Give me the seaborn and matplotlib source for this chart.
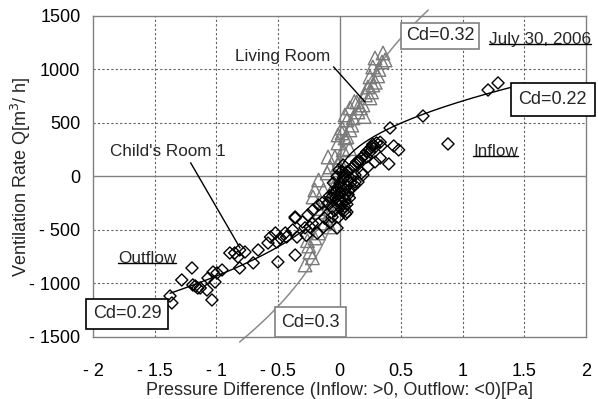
import numpy as np
import pandas as pd
import matplotlib
matplotlib.use("Agg")
import matplotlib.pyplot as plt
import matplotlib.transforms as mtransforms
from matplotlib.lines import Line2D
import seaborn as sns

# Living Room: pressure difference [Pa] and ventilation rate [m3/h]
living_dp = [0.353, 0.288, 0.37, 0.27, 0.345, 0.247, 0.23, 0.27, 0.21, 0.247,
             0.14, 0.19, 0.085, 0.15, 0.045, 0.11, 0.06, 0.02, 0.085, -0.012,
             0.045, 0.02, 0.06, -0.012, 0.03, -0.037, -0.077, -0.012, -0.1, -0.17,
             -0.2, -0.215, -0.13, -0.093, -0.16, -0.12, -0.2, -0.24, -0.28, -0.17,
             -0.077, 0.29, 0.32, 0.12, 0.1, 0.17, -0.25, -0.22, -0.1, -0.05, 0.0,
             0.31, 0.26, 0.2, 0.08, -0.03, -0.14, -0.26]
living_q = [1154, 1107, 1089, 1023, 1070, 930, 836, 855, 762, 734,
            696, 668, 640, 603, 575, 547, 528, 453, 435, 388,
            360, 407, 370, 313, 248, 182, 89, 107, 33, -33,
            -126, -192, -126, 182, -332, -435, -575, -706, -827, -528,
            -472, 880, 1000, 700, 480, 640, -650, -760, -250, -100, 150,
            940, 790, 560, 260, 0, -300, -600]

# Child's Room 1: pressure difference [Pa] and ventilation rate [m3/h]
child_dp = [1.286, 1.205, 0.677, 0.88, 0.41, 0.44, 0.48, 0.337, 0.33, 0.40,
            0.288, 0.247, 0.22, 0.23, 0.15, 0.126, 0.18,
            0.30, 0.26, 0.22, 0.18, 0.14, 0.10, 0.06, 0.03, 0.005, -0.02,
            -0.045, -0.07, -0.093, 0.053, 0.085, 0.126, 0.045, -0.012, 0.02, 0.045,
            0.077, 0.03, -0.004, 0.1, 0.15, 0.19, 0.288,
            0.0, -0.03, 0.01, 0.04, -0.05, -0.02, 0.02, 0.07, 0.05, -0.01,
            0.03, -0.06, 0.08, 0.12,
            0.2, 0.24, 0.16, 0.12, 0.08, 0.27, 0.33, 0.05, 0.0, -0.03,
            0.02, -0.04, 0.06, -0.08, 0.09, 0.04, -0.01, 0.07,
            -0.36, -0.30, -0.256, -0.215, -0.17, -0.14, -0.24, -0.13, -0.06, 0.06,
            0.045, -0.02, -0.28, -0.22, -0.18, -0.12, -0.08, -0.27,
            -1.197, -1.28, -1.19, -1.15, -1.075, -1.035, -1.067, -1.026, -0.994, -0.953,
            -1.01, -0.89, -0.85, -0.81, -0.824, -0.767, -0.81, -0.70, -0.66, -0.56,
            -0.58, -0.52, -0.51, -0.44, -0.48, -0.43, -0.36, -0.38, -0.345, -0.50,
            -0.36, -1.375, -1.36, -1.17, -1.13]
child_q = [874, 808, 565, 304, 453, 285, 248, 285, 173, 117,
           276, 229, 182, 89, 126, -51, 33,
           313, 276, 229, 173, 136, 79, 42, -14, -61, -107,
           -154, -201, -248, -79, -14, 14, -173, -266, -313, -220,
           -126, 107, 61, -107, -51, 14, 136,
           -150, -200, -230, -280, -60, 0, 50, -40, -350, -380,
           -190, -290, -200, -80,
           200, 250, 150, 100, 60, 300, 320, 0, -100, -150,
           -250, -320, -260, -180, -60, -120, -210, -170,
           -388, -425, -360, -313, -266, -248, -472, -472, -378, -332,
           -313, -481, -480, -440, -530, -390, -430, -550,
           -855, -967, -1014, -1042, -1061, -1154, -949, -893, -902, -874,
           -986, -715, -715, -687, -752, -706, -855, -808, -687, -566,
           -622, -528, -612, -528, -575, -566, -378, -500, -566, -799,
           -734, -1117, -1182, -1023, -1042]

# Discharge coefficients of the fitted orifice curves
cd_living_in, cd_living_out = 0.32, 0.3
cd_child_in, cd_child_out = 0.22, 0.29
# Q = Cd * factor * sqrt(|dP|), factor includes opening area and air density
factor_living = 5728.0
factor_child = 3210.0

x_ticks = [-2, -1.5, -1, -0.5, 0, 0.5, 1, 1.5, 2]
x_tick_labels = ["- 2", "- 1.5", "- 1", "- 0.5", "0", "0.5", "1", "1.5", "2"]
y_ticks = [-1500, -1000, -500, 0, 500, 1000, 1500]
y_tick_labels = ["- 1500", "- 1000", "- 500", "0", "500", "1000", "1500"]

sns.set_style("white")
plt.rcParams["font.family"] = ["Liberation Sans", "DejaVu Sans"]

fig = plt.figure(figsize=(5.98, 3.99), dpi=100)
ax = fig.add_axes([0.1555, 0.1554, 0.8245, 0.8046])

frame_gray = "#808080"
for side in ax.spines.values():
    side.set_color(frame_gray)
    side.set_linewidth(1.0)

ax.set_xlim(-2, 2)
ax.set_ylim(-1500, 1500)
ax.set_xticks(x_ticks)
ax.set_xticklabels(x_tick_labels)
ax.set_yticks(y_ticks)
ax.set_yticklabels(y_tick_labels)
ax.tick_params(axis="both", length=0, labelsize=13, colors="black")
ax.tick_params(axis="x", pad=19)
ax.tick_params(axis="y", pad=9)

# dotted grid and solid zero lines
for xv in x_ticks[1:-1]:
    if xv == 0:
        ax.axvline(xv, color=frame_gray, lw=1.0, zorder=1)
    else:
        ax.axvline(xv, color="#606060", lw=0.8, ls=(0, (2, 2)), zorder=1)
for yv in y_ticks[1:-1]:
    if yv == 0:
        ax.axhline(yv, color=frame_gray, lw=1.0, zorder=1)
    else:
        ax.axhline(yv, color="#606060", lw=0.8, ls=(0, (2, 2)), zorder=1)

# Living room orifice curve (gray)
dp_out = np.linspace(-0.81, 0, 120)
dp_in = np.linspace(0, 0.72, 120)
liv_curve = pd.DataFrame({
    "dp": np.concatenate([dp_out, dp_in]),
    "q": np.concatenate([-cd_living_out * factor_living * np.sqrt(-dp_out),
                         cd_living_in * factor_living * np.sqrt(dp_in)]),
})
sns.lineplot(data=liv_curve, x="dp", y="q", sort=False, estimator=None,
             color="#8c8c8c", lw=1.1, ax=ax, zorder=2)
ax.lines[-1].set_clip_on(False)

living = pd.DataFrame({"dp": living_dp, "q": living_q})
sns.scatterplot(data=living, x="dp", y="q", marker="^", s=95,
                facecolor="none", edgecolor="#7a7a7a", linewidth=1.0,
                ax=ax, zorder=3)

child = pd.DataFrame({"dp": child_dp, "q": child_q})
sns.scatterplot(data=child, x="dp", y="q", marker="D", s=38,
                facecolor="none", edgecolor="black", linewidth=1.0,
                ax=ax, zorder=4)

# Child's room orifice curve (black)
c_out = np.linspace(-1.375, 0, 120)
c_in = np.linspace(0, 1.4, 120)
child_curve = pd.DataFrame({
    "dp": np.concatenate([c_out, c_in]),
    "q": np.concatenate([-cd_child_out * factor_child * np.sqrt(-c_out),
                         cd_child_in * factor_child * np.sqrt(c_in)]),
})
sns.lineplot(data=child_curve, x="dp", y="q", sort=False, estimator=None,
             color="black", lw=1.0, ax=ax, zorder=5)

ax.set_xlabel("Pressure Difference (Inflow: >0, Outflow: <0)[Pa]", fontsize=13, labelpad=1.5)
ax.set_ylabel("Ventilation Rate Q[m$^3$/ h]", fontsize=13, labelpad=-3)

fs = 12.3
ax.annotate("Living Room", xy=(0.207, 696), xytext=(-0.848, 1117),
            fontsize=fs, va="center", ha="left",
            arrowprops=dict(arrowstyle="-", color="black", lw=1.0,
                            shrinkA=0, shrinkB=0, relpos=(0.97, 0.3)), zorder=6)
ax.annotate("Child's Room 1", xy=(-0.807, -668), xytext=(-1.862, 229),
            fontsize=fs, va="center", ha="left",
            arrowprops=dict(arrowstyle="-", color="black", lw=1.0,
                            shrinkA=0, shrinkB=0, relpos=(0.68, 0.0)), zorder=6)

def cd_box(label, x, y, edge, pad):
    ax.text(x, y, label, fontsize=13, ha="center", va="center", zorder=7,
            bbox=dict(boxstyle=f"square,pad={pad}", fc="white", ec=edge, lw=1.2))

cd_box(f"Cd={cd_living_in}", 0.815, 1313, frame_gray, 0.25)
cd_box(f"Cd={cd_child_in}", 1.73, 720, "black", 0.42)
cd_box(f"Cd={cd_child_out}", -1.724, -1285, "black", 0.38)
cd_box(f"Cd={cd_living_out}", -0.235, -1360, frame_gray, 0.36)

underlined = [
    ax.text(1.213, 1276, "July 30, 2006", fontsize=fs, ha="left", va="center", zorder=6),
    ax.text(1.083, 229, "Inflow", fontsize=fs, ha="left", va="center", zorder=6),
    ax.text(-1.797, -771, "Outflow", fontsize=fs, ha="left", va="center", zorder=6),
]

fig.canvas.draw()
renderer = fig.canvas.get_renderer()
for t in underlined:
    bb = t.get_window_extent(renderer)
    fig.add_artist(Line2D([bb.x0, bb.x1], [bb.y0 + 3.5, bb.y0 + 3.5], color="black", lw=1.0,
                          transform=mtransforms.IdentityTransform()))

fig.savefig("out.png", dpi=100)
